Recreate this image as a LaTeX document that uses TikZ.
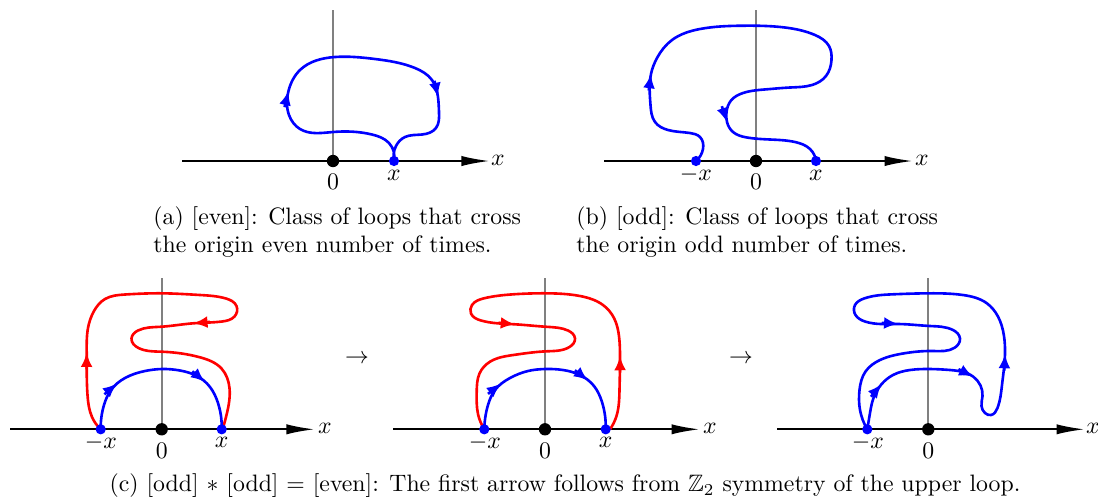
\documentclass[tikz,border=0pt]{standalone}
\usepackage{amssymb}
\usetikzlibrary{arrows.meta,calc,hobby}
\newcommand\mytip[4]{\coordinate (mytiph) at ($#3+#2-#4$);
  \draw[#1,line width=1.1pt,-{Latex[length=6pt,width=5pt]}] ($#3!7pt!(mytiph)$) -- #3;}
\begin{document}
\begin{tikzpicture}[x=0.421pt,y=-0.421pt,
  axisline/.style={line width=0.9pt,-{Latex[length=12pt,width=4.3pt]}},
  vline/.style={gray,line width=0.9pt},
  loopb/.style={blue,line width=1.1pt,use Hobby shortcut},
  loopr/.style={red,line width=1.1pt,use Hobby shortcut},
  origin/.style={circle,fill=black,inner sep=0pt,minimum size=5.2pt},
  bdot/.style={circle,fill=blue,inner sep=0pt,minimum size=4.3pt},
  lbl/.style={inner sep=0pt},
  captext/.style={inner sep=0pt,anchor=west,align=left}
]
\useasboundingbox (0,0) rectangle (1098,501);

% ---------- panel (a)
\coordinate (aL) at (182,161); \coordinate (aR) at (490,161);
\coordinate (aT) at (333,10);
\draw[vline] (aT) -- (333,161);
\draw[axisline] (aL) -- (aR);
\node[lbl] (ax) at (498,160) {$x$};
\draw[loopb] (394,161) .. (389,143) .. (372,134.5) .. (333,132) .. (300,129) .. (289,115)
 .. (288.5,91) .. (300,70) .. (335,57) .. (375,59) .. (415,68) .. (432,80) .. (438,97)
 .. (439,112) .. (436,128) .. (422,134.5) .. (405,137) .. (396,146) .. (394,161);
\mytip{blue}{(289,115)}{(288.5,91)}{(300,70)}
\mytip{blue}{(432,80)}{(438,97)}{(439,112)}
\node[origin] (a0) at (333,161) {};
\node[bdot] (ax1) at (394,161) {};
\node[lbl] (a0l) at (333,182) {$0$};
\node[lbl] (axl) at (394,175) {$x$};

% ---------- panel (b)
\coordinate (bL) at (604,161); \coordinate (bR) at (913,161);
\coordinate (bT) at (756,10);
\draw[vline] (bT) -- (756,161);
\draw[axisline] (bL) -- (bR);
\node[lbl] (bx) at (922,160) {$x$};
\draw[loopb] (696,161) .. (703,149) .. (700,137) .. (690,133) .. (668,130) .. (655,122)
 .. (650.5,105) .. (651,74) .. (657,58) .. (672,40) .. (700,29) .. (743,25.7) .. (785,27.5)
 .. (815,35) .. (829,46) .. (831.5,60) .. (826,76) .. (812,85) .. (790,87.5) .. (766.7,89.3)
 .. (743,93) .. (731,100.5) .. (726.5,112) .. (727,122) .. (733,132) .. (747,137.5)
 .. (770,139.5) .. (795,142) .. (810,149) .. (816,161);
\mytip{blue}{(650.5,105)}{(651,74)}{(657,58)}
\mytip{blue}{(726.5,112)}{(727,122)}{(733,132)}
\node[origin] (b0) at (756,161) {};
\node[bdot] (bm) at (696,161) {};
\node[bdot] (bp) at (816,161) {};
\node[lbl] (bml) at (696,175) {$-x$};
\node[lbl] (b0l) at (756,182) {$0$};
\node[lbl] (bpl) at (816,175) {$x$};

% ---------- captions (a),(b)
\node[captext] (capa) at (153,232) {(a) [even]: Class of loops that cross\\ the origin even number of times.};
\node[captext] (capb) at (576,232) {(b) [odd]: Class of loops that cross\\ the origin odd number of times.};

% ---------- panel c1
\draw[vline] (161.7,278) -- (161.7,429.3);
\draw[axisline] (10,429.3) -- (315,429.3);
\node[lbl] (c1x) at (325,428) {$x$};
\draw[loopr] (100.7,429.3) .. (92,417) .. (87.5,395) .. (86.7,352.7) .. (88,328) .. (94,311)
 .. (105,299) .. (125,294.5) .. (161.7,293.3) .. (200,295) .. (226,298.5) .. (236.5,306)
 .. (234.5,316.5) .. (222,321.5) .. (193.3,323.3) .. (160,326.8) .. (138,330.5)
 .. (131.5,338.5) .. (138.5,348) .. (161.7,351.7) .. (200,357.3) .. (221.5,368.5)
 .. (229.5,388) .. (227,413) .. (222.5,429.3);
\mytip{red}{(87.5,395)}{(86.7,352.7)}{(88,328)}
\mytip{red}{(222,321.5)}{(193.3,323.3)}{(160,326.8)}
\draw[loopb] (100.7,429.3) .. (104,405) .. (111,390) .. (125,378) .. (145,371) .. (161.7,369)
 .. (180,370.5) .. (197,376) .. (210,387) .. (218,403) .. (221.7,429.3);
\mytip{blue}{(111,390)}{(117,383.5)}{(125,378)}
\mytip{blue}{(197,376)}{(205,382)}{(210,387)}
\node[origin] (c10) at (161.7,429.3) {};
\node[bdot] (c1m) at (100.7,429.3) {};
\node[bdot] (c1p) at (221.7,429.3) {};
\node[lbl] (c1ml) at (101,443) {$-x$};
\node[lbl] (c10l) at (161.7,451) {$0$};
\node[lbl] (c1pl) at (221.7,442) {$x$};

\node[lbl] (to1) at (357,359) {$\to$};

% ---------- panel c2
\draw[vline] (545,278) -- (545,429.3);
\draw[axisline] (393,429.3) -- (700,429.3);
\node[lbl] (c2x) at (710,428) {$x$};
\draw[loopr] (610,429.3) .. (616.5,416) .. (619.5,390) .. (620,356) .. (619,336) .. (614,318)
 .. (603,305) .. (580,296) .. (546.7,293.3) .. (513.3,294.3) .. (484,298.3) .. (472,305)
 .. (471,313.5) .. (481,320.5) .. (515,324.3) .. (546.7,326.8) .. (568,330.5) .. (575,338.5)
 .. (569.5,347) .. (546.7,351.3) .. (513.3,355) .. (490,361.7) .. (479.5,373.5)
 .. (476.7,392) .. (478,414) .. (484.3,429.3);
\mytip{red}{(619.5,390)}{(620,356)}{(619,336)}
\mytip{red}{(481,320.5)}{(515,324.3)}{(546.7,326.8)}
\draw[loopb] (484.3,429.3) .. (488,405) .. (495,390) .. (510,378) .. (528,371) .. (545,369)
 .. (563,370) .. (580,375) .. (594,386) .. (602,402) .. (605.7,429.3);
\mytip{blue}{(495,390)}{(501,383.5)}{(510,378)}
\mytip{blue}{(580,375)}{(588,380.5)}{(594,386)}
\node[origin] (c20) at (545,429.3) {};
\node[bdot] (c2m) at (484.3,429.3) {};
\node[bdot] (c2p) at (605.7,429.3) {};
\node[lbl] (c2ml) at (485,443) {$-x$};
\node[lbl] (c20l) at (545,451) {$0$};
\node[lbl] (c2pl) at (605.7,442) {$x$};

\node[lbl] (to2) at (741,359) {$\to$};

% ---------- panel c3
\draw[vline] (928.3,278) -- (928.3,429.3);
\draw[axisline] (777,429.3) -- (1085,429.3);
\node[lbl] (c3x) at (1093,428) {$x$};
\draw[loopb] (867.3,429.3) .. (870,413) .. (873.5,398) .. (881.7,384) .. (893,375) .. (910,370)
 .. (930,369) .. (950,370) .. (973.3,376.7) .. (980.5,385.5) .. (982.5,396) .. (981.5,406)
 .. (985,413) .. (991,415) .. (997.5,408) .. (1002,385) .. (1005,354) .. (1004,336)
 .. (998,316.5) .. (986.5,303) .. (963,295) .. (930,293.3) .. (893,294.3) .. (864,298.5)
 .. (855,305) .. (855.5,315) .. (865,321.5) .. (898.3,324) .. (930,326) .. (953,330)
 .. (960,338.5) .. (955,347.5) .. (933,351) .. (903,353.5) .. (880,360) .. (865.5,371.5)
 .. (859.5,390) .. (860,410) .. (867.3,429.3);
\mytip{blue}{(873.5,398)}{(881.7,384)}{(893,375)}
\mytip{blue}{(950,370)}{(973.3,376.7)}{(980.5,385.5)}
\mytip{blue}{(1002,385)}{(1005,354)}{(1004,336)}
\mytip{blue}{(865,321.5)}{(898.3,324)}{(930,326)}
\node[origin] (c30) at (928.3,429.3) {};
\node[bdot] (c3m) at (867.3,429.3) {};
\node[lbl] (c3ml) at (868,443) {$-x$};
\node[lbl] (c30l) at (928.3,451) {$0$};

% ---------- caption (c)
\node[inner sep=0pt] (capc) at (565,486) {(c) [odd] $*$ [odd] $=$ [even]: The first arrow follows from $\mathbb{Z}_2$ symmetry of the upper loop.};
\end{tikzpicture}
\end{document}
